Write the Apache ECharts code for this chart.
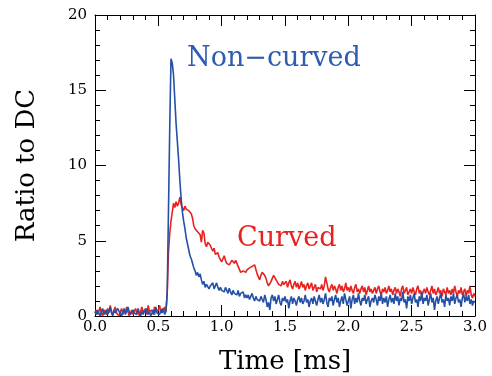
<!DOCTYPE html>
<html>
<head>
<meta charset="utf-8">
<script src="https://cdn.jsdelivr.net/npm/echarts@6/dist/echarts.min.js"></script>
<style>html,body{margin:0;padding:0;background:#fff;}#c{width:492px;height:376px;}</style>
</head>
<body>
<div id="c"></div>
<script>
// Sampled every 0.01 ms from 0.00 to 3.00 ms
const timeStep = 0.01;
const nonCurved = [
0.3,0.1,0.4,0.2,0.0,0.3,0.5,0.1,0.2,0.4,
0.1,0.3,0.6,0.2,0.0,0.4,0.2,0.1,0.5,0.3,
0.2,0.0,0.3,0.5,0.1,0.2,0.6,0.3,0.1,0.0,
0.4,0.2,0.3,0.1,0.5,0.2,0.0,0.3,0.1,0.4,
0.2,0.5,0.1,0.3,0.0,0.2,0.4,0.1,0.6,0.2,
0.3,0.1,0.4,0.2,0.5,0.1,0.3,
1.5,7.0,12.5,
17.1,16.8,16.0,14.4,12.8,11.6,10.4,9.0,7.8,6.9,
6.3,5.8,5.2,4.8,4.4,4.0,3.8,3.5,3.2,3.0,
2.7,2.9,2.6,2.8,2.4,2.1,2.3,1.9,2.1,2.0,
1.8,2.0,1.9,2.2,1.8,2.0,2.2,1.9,1.7,1.9,
1.7,1.8,1.6,1.9,1.7,1.5,1.85,1.6,1.4,1.7,
1.5,1.6,1.4,1.7,1.3,1.5,1.4,1.6,1.2,1.4,
1.2,1.4,1.1,1.3,1.5,1.2,1.0,1.3,1.1,1.2,
1.0,1.3,1.2,0.9,1.4,1.1,0.6,0.9,0.4,1.2,
1.4,1.0,1.3,0.8,1.1,1.4,0.9,0.7,1.2,1.0,
1.3,0.9,1.1,0.5,1.0,1.3,0.8,1.2,1.0,0.7,
1.1,1.3,0.9,1.2,0.8,1.0,1.4,0.9,1.1,0.6,
1.0,1.2,0.8,1.3,1.0,0.7,1.1,1.4,0.9,1.2,
0.8,1.1,1.5,0.9,0.6,1.2,1.0,1.3,0.7,1.1,
1.4,0.9,1.2,0.6,1.0,1.3,0.8,1.5,1.1,0.7,
1.0,1.3,0.5,1.1,1.4,0.8,1.2,0.9,1.5,1.0,
0.7,1.2,1.0,1.4,0.8,1.1,1.3,0.6,1.0,1.2,
0.9,1.4,1.1,0.7,1.3,1.0,1.5,0.8,1.2,0.9,
1.3,0.6,1.1,1.4,0.9,1.2,0.8,1.5,1.0,1.3,
0.7,1.2,1.0,1.6,0.9,1.1,0.5,1.3,1.0,1.4,
0.8,1.2,1.5,0.9,1.1,0.6,1.3,1.0,1.6,0.8,
1.2,1.0,1.4,0.7,1.1,1.5,0.9,1.2,0.4,1.0,
1.3,0.8,1.2,1.5,0.9,1.1,0.6,1.4,1.0,1.2,
0.7,1.3,1.0,1.5,0.8,1.2,1.4,0.9,1.1,0.6,
1.2,1.5,0.9,1.3,1.0,1.4,0.8,1.1,0.7,1.0,
0.9
];
const curved = [
0.2,0.4,0.1,0.3,0.6,0.2,0.0,0.4,0.3,0.1,
0.5,0.2,0.7,0.3,0.1,0.4,0.6,0.2,0.3,0.0,
0.3,0.5,0.1,0.4,0.2,0.6,0.3,0.0,0.2,0.4,
0.1,0.3,0.5,0.2,0.4,0.0,0.3,0.6,0.2,0.3,
0.5,0.1,0.7,0.3,0.2,0.4,0.1,0.6,0.3,0.2,
0.4,0.7,0.2,0.5,0.3,0.6,0.3,
1.5,4.2,5.5,
6.3,6.9,7.5,7.2,7.6,7.3,7.5,7.9,7.4,7.2,
7.0,7.3,7.1,7.2,7.0,7.1,6.8,6.5,6.0,5.8,
5.9,5.6,5.5,5.4,4.9,5.7,5.5,4.8,4.6,4.9,
5.0,4.7,4.5,4.3,4.5,4.1,4.0,4.2,3.9,3.8,
3.6,3.8,4.0,3.7,3.5,3.6,3.4,3.5,3.7,3.6,
3.5,3.7,3.6,3.3,3.1,2.9,2.85,3.0,3.1,2.9,
3.06,3.0,3.2,3.1,3.3,3.2,3.4,3.1,2.8,2.6,
2.4,2.7,2.9,3.0,2.7,2.5,2.2,2.0,1.95,2.3,
2.5,2.7,2.6,2.4,2.3,2.1,2.2,2.0,2.3,2.1,
2.0,2.3,1.9,2.2,2.4,2.0,1.8,2.1,2.3,1.9,
2.2,1.8,2.0,2.3,1.9,2.1,1.7,2.0,2.2,1.8,
2.0,2.2,1.7,1.9,2.1,1.6,1.9,2.0,1.8,2.1,
1.7,2.0,2.6,2.2,1.8,1.6,1.9,2.1,1.7,2.0,
1.8,1.5,1.9,2.1,1.7,2.0,1.6,1.8,2.2,1.7,
1.9,1.6,2.0,1.7,1.5,1.9,2.1,1.6,1.8,1.5,
1.8,2.0,1.6,1.9,1.4,1.7,2.0,1.6,1.8,1.5,
1.7,1.9,1.5,1.8,2.0,1.6,1.4,1.8,1.6,1.9,
1.5,1.7,2.0,1.6,1.8,1.4,1.7,1.9,1.5,1.8,
1.6,1.3,1.8,2.0,1.5,1.7,1.9,1.4,1.6,1.8,
1.5,1.9,1.6,1.4,1.8,2.0,1.5,1.7,1.3,1.6,
1.8,1.5,1.9,1.6,1.4,1.7,2.0,1.5,1.8,1.4,
1.6,1.9,1.5,1.7,1.3,1.8,1.6,1.4,1.9,1.5,
1.7,1.4,1.8,1.5,2.0,1.6,1.3,1.7,1.5,1.9,
1.4,1.6,1.8,1.3,1.7,1.5,2.0,1.4,1.2,1.5,
1.3
];
const xTickLabels = ['0.0','0.5','1.0','1.5','2.0','2.5','3.0'];
const yTickLabels = ['0','5','10','15','20'];
const seriesNames = ['Curved', 'Non\u2212curved'];

const times = nonCurved.map((_, i) => +(i * timeStep).toFixed(2));
const toPairs = arr => arr.map((v, i) => [times[i], v]);

const FONT = 'DejaVu Serif';
const BLUE = '#2450a6';
const RED = '#e8221f';

function xAxis(pos, showLabels) {
  return {
    type: 'value', position: pos, min: 0, max: 3, interval: 0.5,
    axisLine: { show: true, onZero: false, lineStyle: { color: '#000', width: 1 } },
    axisTick: { show: true, inside: true, length: 11, lineStyle: { color: '#000' } },
    minorTick: { show: true, splitNumber: 5, length: 5, lineStyle: { color: '#000' } },
    splitLine: { show: false },
    axisLabel: { show: showLabels, margin: 4, fontFamily: FONT, fontSize: 15, color: '#000',
      formatter: v => xTickLabels[Math.round(v / 0.5)] },
    name: showLabels ? 'Time [ms]' : '', nameLocation: 'middle', nameGap: 33,
    nameTextStyle: { fontFamily: FONT, fontSize: 26, color: '#000' }
  };
}
function yAxis(pos, showLabels) {
  return {
    type: 'value', position: pos, min: 0, max: 20, interval: 5,
    axisLine: { show: true, onZero: false, lineStyle: { color: '#000', width: 1 } },
    axisTick: { show: true, inside: true, length: 11, lineStyle: { color: '#000' } },
    minorTick: { show: true, splitNumber: 5, length: 5, lineStyle: { color: '#000' } },
    splitLine: { show: false },
    axisLabel: { show: showLabels, margin: 8, fontFamily: FONT, fontSize: 15, color: '#000',
      formatter: v => yTickLabels[Math.round(v / 5)] },
    name: showLabels ? 'Ratio to DC' : '', nameLocation: 'middle', nameGap: 55,
    nameTextStyle: { fontFamily: FONT, fontSize: 26, color: '#000' }
  };
}

const chart = echarts.init(document.getElementById('c'), null, { renderer: 'canvas' });
chart.setOption({
  animation: false,
  backgroundColor: '#fff',
  grid: { left: 95, right: 17, top: 15, bottom: 60, containLabel: false, outerBoundsMode: 'none' },
  xAxis: [xAxis('bottom', true), xAxis('top', false)],
  yAxis: [yAxis('left', true), yAxis('right', false)],
  series: [
    { name: seriesNames[0], type: 'line', data: toPairs(curved), showSymbol: false,
      lineStyle: { color: RED, width: 1.6 }, itemStyle: { color: RED } },
    { name: seriesNames[1], type: 'line', data: toPairs(nonCurved), showSymbol: false,
      lineStyle: { color: BLUE, width: 1.6 }, itemStyle: { color: BLUE } }
  ],
  graphic: [
    { type: 'text', left: 187, top: 45, style: { text: seriesNames[1], font: '27px "DejaVu Serif"', fill: '#2d5cb0' } },
    { type: 'text', left: 237, top: 225, style: { text: seriesNames[0], font: '27px "DejaVu Serif"', fill: RED } }
  ]
});
</script>
</body>
</html>
